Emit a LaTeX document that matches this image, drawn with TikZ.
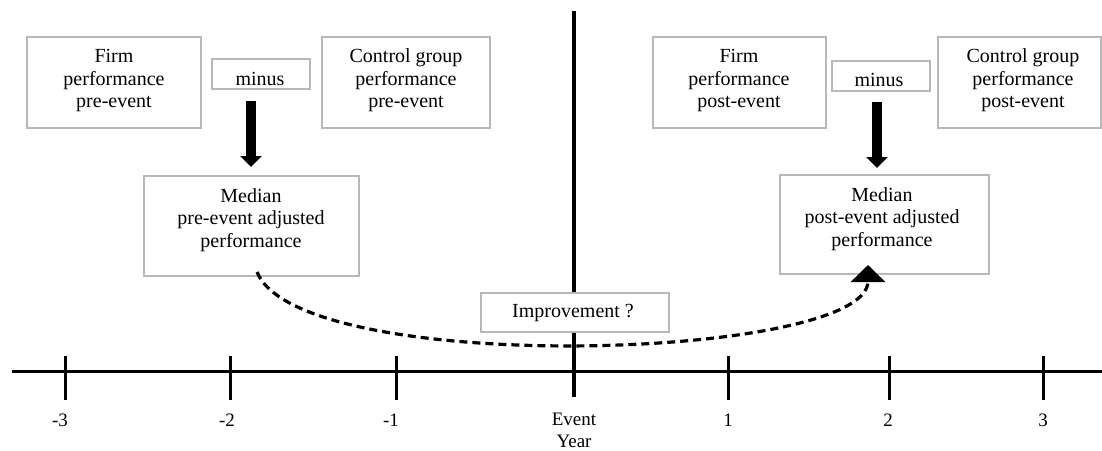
\documentclass[tikz,border=0pt]{standalone}
\usepackage{fontspec}
\setmainfont{Liberation Serif}
\usetikzlibrary{arrows.meta}
\begin{document}
\begin{tikzpicture}[x=1pt,y=-1pt,
  box/.style={draw=black!28, fill=white, line width=1.3pt, inner sep=0pt},
  txt/.style={inner sep=0pt, align=center, anchor=base, font=\fontsize{20}{22.5}\selectfont},
  ticklbl/.style={inner sep=0pt, align=center, anchor=base, font=\fontsize{19}{22}\selectfont},
  axisline/.style={line width=3pt},
  blockarrow/.style={line width=10pt, -{Triangle[width=21pt,length=11pt]}},
  trend/.style={line width=3.2pt, dash pattern=on 8pt off 5pt, -{Triangle[width=34pt,length=17pt]}}
]
\clip (0,0) rectangle (1102,450);

% time axis and event-year divider
\coordinate (axL) at (12,371);
\coordinate (axR) at (1102,371);
\draw[axisline] (axL) -- (axR);
\coordinate (evtop) at (574,11);
\coordinate (evbot) at (574,397);
\draw[line width=3.2pt] (evtop) -- (evbot);

% year ticks
\foreach \x/\nm in {65/m3,230/m2,396/m1,728/p1,889/p2,1043/p3}{
  \coordinate (t\nm a) at (\x,356);
  \coordinate (t\nm b) at (\x,400);
  \draw[axisline] (t\nm a) -- (t\nm b);
}

% year labels (multi-line nodes sit on the baseline of their last line)
\node[ticklbl] (lm3) at (60,426) {-3};
\node[ticklbl] (lm2) at (227,426) {-2};
\node[ticklbl] (lm1) at (391,426) {-1};
\node[ticklbl] (lev) at (574,447) {Event\\Year};
\node[ticklbl] (lp1) at (728,426) {1};
\node[ticklbl] (lp2) at (888,426) {2};
\node[ticklbl] (lp3) at (1043,426) {3};

% pre-event side
\node[box, minimum width=174pt, minimum height=91pt] (firmpre) at (114,82.5) {};
\node[txt] (firmpret) at (114,107.5) {Firm\\performance\\pre-event};
\node[box, minimum width=98pt, minimum height=30pt] (minuspre) at (261,74) {};
\node[txt] (minuspret) at (260,85) {minus};
\node[box, minimum width=168pt, minimum height=91pt] (ctrlpre) at (406,82.5) {};
\node[txt] (ctrlpret) at (406,107.5) {Control group\\performance\\pre-event};
\node[box, minimum width=215pt, minimum height=100pt] (medpre) at (251.5,226) {};
\node[txt] (medpret) at (251,247) {Median\\pre-event adjusted\\performance};
\coordinate (arrpreA) at (251,101);
\coordinate (arrpreB) at (251,167);
\draw[blockarrow] (arrpreA) -- (arrpreB);

% post-event side
\node[box, minimum width=173pt, minimum height=91pt] (firmpost) at (739.5,82.5) {};
\node[txt] (firmpostt) at (739,107.5) {Firm\\performance\\post-event};
\node[box, minimum width=98pt, minimum height=30pt] (minuspost) at (881,76) {};
\node[txt] (minuspostt) at (879,86.5) {minus};
\node[box, minimum width=163pt, minimum height=91pt] (ctrlpost) at (1019.5,82.5) {};
\node[txt] (ctrlpostt) at (1023,107.5) {Control group\\performance\\post-event};
\node[box, minimum width=209pt, minimum height=99pt] (medpost) at (884.5,224.5) {};
\node[txt] (medpostt) at (882,246) {Median\\post-event adjusted\\performance};
\coordinate (arrpostA) at (877,102);
\coordinate (arrpostB) at (877,168);
\draw[blockarrow] (arrpostA) -- (arrpostB);

% comparison of adjusted performance across the event
\coordinate (trendA) at (257,272);
\coordinate (trendB) at (868,265);
\draw[trend] (trendA) .. controls (300,378) and (868,360) .. (trendB);

\node[box, minimum width=188pt, minimum height=39pt] (impr) at (575,312.5) {};
\node[txt] (imprt) at (573,317) {Improvement ?};
\end{tikzpicture}
\end{document}
